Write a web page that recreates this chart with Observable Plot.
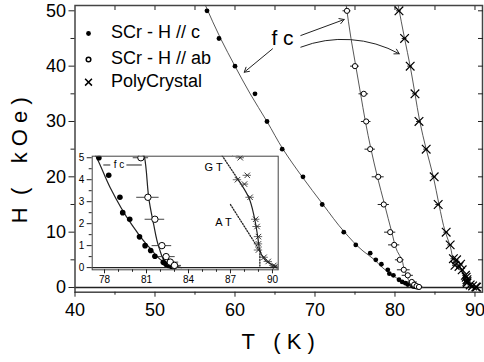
<!DOCTYPE html>
<html><head><meta charset="utf-8">
<script src="https://cdn.jsdelivr.net/npm/d3@7"></script>
<script src="https://cdn.jsdelivr.net/npm/@observablehq/plot@0.6"></script>
<style>
body{margin:0;background:#fff;}
#wrap{position:relative;width:484px;height:362px;overflow:hidden;}
#wrap svg{position:absolute;}
</style></head><body><div id="wrap"></div>
<script>
// ---- data (T in K, H in kOe) ----
const scrC = [[56.5,50],[58.0,45],[60.0,40],[62.5,35],[64.0,30],[65.9,25],[68.5,20],[70.9,15],[73.6,10],[75.1,7.7],[76.9,6.2],[77.6,5.0],[78.3,4.2],[79.1,3.2],[79.3,2.5],[79.8,2.2],[80.5,1.4],[80.9,1.0],[81.3,0.78],[81.6,0.52],[82.2,0.24],[82.4,0.15],[82.6,0.1],[82.8,0.05],[82.95,0.02]];
const scrAB = [[74.0,50],[75.0,40],[76.1,35],[76.4,30],[76.9,25],[77.9,20],[78.6,15],[79.4,10],[79.9,7.7],[80.6,5.0],[81.1,3.2],[81.6,2.2],[82.1,1.0],[82.4,0.5],[82.7,0.25],[83.0,0.1]];
const scrABerr = [0.5,0.55,0.6,0.6,0.65,0.75,0.7,0.7,0.7,0.55,0.8,0.7,0.7,0.65,0.6,0.5];
const poly = [[80.5,50],[81.2,45],[81.9,40],[82.5,35],[83.0,30],[83.9,25],[84.9,20],[85.4,15],[86.4,10],[86.9,7.7],[87.3,5.2],[87.7,5.0],[87.5,4.0],[88.2,4.2],[88.0,3.8],[88.4,3.2],[88.8,2.2],[88.9,1.87],[89.0,1.41],[89.0,1.08],[89.0,0.8],[89.4,0.47],[89.7,0.28],[90.1,0.1],[90.2,0.05]];
const polyErr = 0.3;
const fitC = [[56.3,51],[58.2,45],[60.0,40],[61.9,35],[64.0,30],[66.0,25],[68.4,20],[71.0,15],[73.7,10],[76.0,6.6],[77.4,5.06],[78.4,3.65],[79.9,2.0],[81.3,0.85],[82.5,0.17],[83.5,0]];
const fitAB = [[73.9,51],[74.5,45],[75.1,40],[75.7,35],[76.3,30],[77.0,25],[77.8,20],[78.7,15],[79.6,10],[80.3,6.5],[80.85,5.06],[81.2,3.0],[81.5,2.0],[81.9,0.9],[82.4,0.2],[82.8,0]];
const fitPoly = [[80.4,51],[81.2,45],[81.9,40],[82.5,35],[83.1,30],[83.9,25],[84.8,20],[85.5,15],[86.3,10],[86.9,7.5],[87.5,4.05],[88.3,3.2],[88.7,2.3],[88.95,1.4],[89.1,0.78],[89.6,0.28],[90.3,0]];
const gtLine = [[86.4,5.1],[87.5,4.05]];
const atLine = [[87.0,2.87],[89.1,0.76]];
const atDrop = [[89.1,0.76],[89.1,0]];
const legendLabels = ["SCr - H // c","SCr - H // ab","PolyCrystal"];
const xMajor = [40,50,60,70,80,90], xMinor = [45,55,65,75,85];
const yMajor = [0,10,20,30,40,50], yMinor = [5,15,25,35,45];
const xAll5 = [45,50,55,60,65,70,75,80,85,90], yAll5 = [5,10,15,20,25,30,35,40,45,50];
const ixMajor = [78,81,84,87,90], ixMinor = [79,80,82,83,85,86,88,89];
const iyMajor = [0,1,2,3,4,5], iyMinor = [0.5,1.5,2.5,3.5,4.5];

const font = "'Liberation Sans', Arial, Helvetica, sans-serif";
const T = d => d[0], H = d => d[1];
const ink = "#222";
const nb = "\u00a0";

const main = Plot.plot({
  width:484, height:362, marginLeft:74.5, marginRight:2, marginTop:5, marginBottom:70.3,
  x:{domain:[40,90.94]}, y:{domain:[-0.85,50.96]},
  style:{fontFamily:font, color:"#000", background:"transparent", overflow:"visible"},
  marks:[
    Plot.ruleY([0], {stroke:ink, strokeWidth:1.6}),
    Plot.line(fitC, {x:T, y:H, curve:"monotone-y", stroke:"#444", strokeWidth:0.9}),
    Plot.line(fitAB, {x:T, y:H, curve:"monotone-y", stroke:"#444", strokeWidth:0.9}),
    Plot.line(fitPoly, {x:T, y:H, curve:"monotone-y", stroke:"#444", strokeWidth:0.9}),
    Plot.ruleY(scrAB, {y:H, x1:(d,i)=>d[0]-scrABerr[i], x2:(d,i)=>d[0]+scrABerr[i], stroke:ink, strokeWidth:1}),
    Plot.ruleY(poly, {y:H, x1:d=>d[0]-polyErr, x2:d=>d[0]+polyErr, stroke:ink, strokeWidth:1}),
    Plot.dot(scrC, {x:T, y:H, r:2.4, fill:"#000"}),
    Plot.dot(scrAB, {x:T, y:H, r:2.6, fill:"#fff", stroke:"#000", strokeWidth:1}),
    Plot.dot(poly, {x:T, y:H, r:4, symbol:"times", stroke:"#000", strokeWidth:1.2}),
    // legend
    Plot.dot([[41.69,45.9]], {x:T, y:H, r:2.4, fill:"#000"}),
    Plot.dot([[41.69,41.2]], {x:T, y:H, r:2.3, fill:"#fff", stroke:"#000"}),
    Plot.dot([[41.69,37.1]], {x:T, y:H, r:3.2, symbol:"times", stroke:"#000"}),
    Plot.text([legendLabels[0]], {x:44.5, y:46.1, textAnchor:"start", fontSize:18}),
    Plot.text([legendLabels[1]], {x:44.5, y:41.45, textAnchor:"start", fontSize:18}),
    Plot.text([legendLabels[2]], {x:44.5, y:37.25, textAnchor:"start", fontSize:18}),
    // f c annotation
    Plot.text(["f c"], {x:65.94, y:45.0, fontSize:21}),
    Plot.arrow([[64.69,43.13,61.15,38.9]], {x1:d=>d[0], y1:d=>d[1], x2:d=>d[2], y2:d=>d[3], stroke:ink, headLength:8, strokeWidth:1}),
    Plot.arrow([[68.23,45.54,73.65,48.43]], {x1:d=>d[0], y1:d=>d[1], x2:d=>d[2], y2:d=>d[3], stroke:ink, headLength:8, strokeWidth:1}),
    Plot.arrow([[68.23,43.43,80.53,42.24]], {x1:d=>d[0], y1:d=>d[1], x2:d=>d[2], y2:d=>d[3], stroke:ink, headLength:8, strokeWidth:1, bend:25}),
    Plot.frame({stroke:"#444", strokeWidth:1.5}),
    // axes
    Plot.axisX({ticks:xMajor, tickSize:5, tickPadding:6, fontSize:18, label:null, stroke:ink}),
    Plot.axisX({ticks:xMinor, tickSize:3, text:null, label:null, stroke:ink}),
    Plot.axisY({ticks:yMajor, tickSize:6, tickPadding:3, fontSize:18, label:null, stroke:ink}),
    Plot.axisY({ticks:yMinor, tickSize:4, text:null, label:null, stroke:ink}),
    Plot.axisX({anchor:"top", ticks:xAll5, tickSize:4, dy:4, text:null, label:null, stroke:ink}),
    Plot.axisY({anchor:"right", ticks:yAll5, tickSize:5, dx:-5, text:null, label:null, stroke:ink}),
    Plot.text(["T" + nb+nb+nb + "(" + nb + "K" + nb + ")"], {x:65.4, y:-9.9, fontSize:22}),
    Plot.text(["H" + nb+nb + "(" + nb+nb+nb+nb + "k" + nb + "O" + nb + "e" + nb + ")"], {x:40, y:23.0, dx:-55.5, rotate:-90, fontSize:22})
  ]
});

const clip = true;
const inset = Plot.plot({
  width:214, height:138, marginLeft:23.7, marginRight:4.3, marginTop:5.7, marginBottom:18.7,
  x:{domain:[77.12,90.41]}, y:{domain:[-0.1,5.07]},
  style:{fontFamily:font, color:"#000", background:"transparent"},
  marks:[
    Plot.frame({fill:"#fff", stroke:"none"}),
    Plot.ruleY([0], {stroke:ink, strokeWidth:1.4}),
    Plot.line(fitC, {x:T, y:H, curve:"monotone-y", stroke:"#222", strokeWidth:1.2, clip}),
    Plot.line(fitAB, {x:T, y:H, curve:"monotone-y", stroke:"#222", strokeWidth:1.2, clip}),
    Plot.line(fitPoly.filter(d=>d[1]<=4.1), {x:T, y:H, curve:"monotone-y", stroke:"#222", strokeWidth:1.2, clip}),
    Plot.line(gtLine, {x:T, y:H, stroke:"#222", strokeWidth:1.3, strokeDasharray:"1.2,1.6", clip}),
    Plot.line(atLine, {x:T, y:H, stroke:"#222", strokeWidth:1.3, strokeDasharray:"1.2,1.6", clip}),
    Plot.line(atDrop, {x:T, y:H, stroke:"#222", strokeWidth:1.3, strokeDasharray:"1.2,1.6", clip}),
    Plot.ruleY(scrAB, {y:H, x1:(d,i)=>d[0]-scrABerr[i], x2:(d,i)=>d[0]+scrABerr[i], stroke:"#444", strokeWidth:1, clip}),
    Plot.ruleY(poly, {y:H, x1:d=>d[0]-polyErr, x2:d=>d[0]+polyErr, stroke:"#444", strokeWidth:0.8, clip}),
    Plot.dot(scrC, {x:T, y:H, r:2.8, fill:"#000", clip}),
    Plot.dot(scrAB, {x:T, y:H, r:3.2, fill:"#fff", stroke:"#000", strokeWidth:1, clip}),
    Plot.dot(poly, {x:T, y:H, r:2.6, symbol:"times", stroke:"#222", strokeWidth:0.9, clip}),
    Plot.ruleY([4.67], {x1:77.95, x2:78.45, stroke:ink, strokeWidth:1}),
    Plot.ruleY([4.67], {x1:79.6, x2:80.7, stroke:ink, strokeWidth:1}),
    Plot.text(["f c"], {x:79.04, y:4.67, fontSize:10}),
    Plot.text(["G T"], {x:85.8, y:4.55, fontSize:11}),
    Plot.text(["A T"], {x:86.5, y:2.06, fontSize:11}),
    Plot.frame({stroke:"#444", strokeWidth:1}),
    Plot.axisX({ticks:ixMajor, tickSize:4, tickPadding:2, fontSize:10, label:null, stroke:ink, tickFormat:"d"}),
    Plot.axisX({ticks:ixMinor, tickSize:2.5, text:null, label:null, stroke:ink}),
    Plot.axisY({ticks:iyMajor, tickSize:5, tickPadding:3, fontSize:10, label:null, stroke:ink, tickFormat:"d"}),
    Plot.axisY({ticks:iyMinor, tickSize:3, text:null, label:null, stroke:ink})
  ]
});

const wrap = document.getElementById("wrap");
main.style.left = "0px"; main.style.top = "0px";
inset.style.left = "68px"; inset.style.top = "150px";
wrap.appendChild(main);
wrap.appendChild(inset);
</script></body></html>
